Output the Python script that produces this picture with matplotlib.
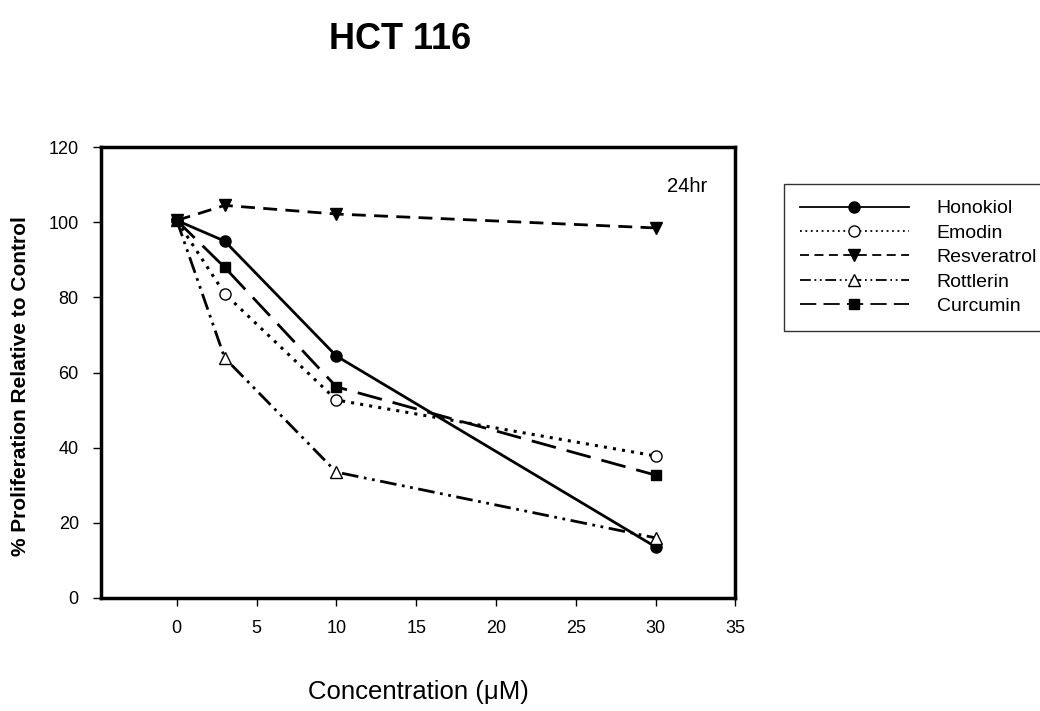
import matplotlib.pyplot as plt

plt.rcParams['font.family'] = ['Liberation Sans', 'DejaVu Sans']

# data
conc = [0, 3, 10, 30]
honokiol = [100.5, 95, 64.4, 13.6]
emodin = [100.5, 81, 52.7, 37.8]
resveratrol = [100.5, 104.5, 102.2, 98.5]
rottlerin = [100.5, 63.9, 33.5, 16]
curcumin = [100.5, 88, 56.2, 32.7]

fig = plt.figure(figsize=(10.4, 7.11), dpi=100)
ax = fig.add_axes([0.0971, 0.159, 0.61, 0.634])

ax.plot(conc, honokiol, color='black', lw=2, ls='-', marker='o', ms=8,
        mfc='black', label='Honokiol')
ax.plot(conc, emodin, color='black', lw=2.2, ls=(0, (1, 2)), marker='o', ms=8,
        mfc='white', label='Emodin')
ax.plot(conc, resveratrol, color='black', lw=2, ls=(0, (5, 3)), marker='v', ms=8,
        mfc='black', label='Resveratrol')
ax.plot(conc, rottlerin, color='black', lw=2, ls=(0, (6, 2, 1, 2, 1, 2)), marker='^', ms=8,
        mfc='white', mew=1, label='Rottlerin')
ax.plot(conc, curcumin, color='black', lw=2, ls=(0, (9, 4)), marker='s', ms=7,
        mfc='black', label='Curcumin')

ax.set_xlim(-4.75, 35)
ax.set_ylim(0, 120)
ax.set_xticks([0, 5, 10, 15, 20, 25, 30, 35])
ax.set_yticks([0, 20, 40, 60, 80, 100, 120])
ax.tick_params(direction='out', length=6, width=1, labelsize=13, pad=10)
for s in ax.spines.values():
    s.set_linewidth(2.5)

ax.text(30.7, 109.6, '24hr', fontsize=14.5, ha='left', va='center')

ax.set_xlabel('Concentration (μM)', fontsize=18.5, labelpad=31)
ax.set_ylabel('% Proliferation Relative to Control', fontsize=15, fontweight='bold')
ax.yaxis.set_label_coords(-0.112, 0.47)

fig.text(0.385, 0.945, 'HCT 116', fontsize=26, fontweight='bold', ha='center', va='center')

leg = fig.legend(loc='upper left', bbox_to_anchor=(0.754, 0.741), frameon=True,
                 fancybox=False, edgecolor='black', fontsize=14, handlelength=5.6,
                 handletextpad=1.45, labelspacing=0.35, borderpad=0.8,
                 borderaxespad=0)
leg.get_frame().set_linewidth(1)
for ln in leg.get_lines():
    ln.set_linewidth(1.3)

fig.savefig('out.png', dpi=100)
